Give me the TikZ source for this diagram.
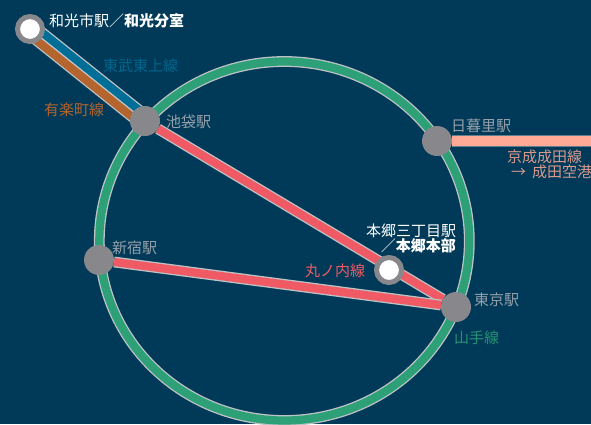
\documentclass[tikz,border=0pt]{standalone}
\usepackage{fontspec}
\setmainfont{Noto Sans CJK JP}
\usetikzlibrary{calc,backgrounds}
\definecolor{fond}{RGB}{0,58,88}
\definecolor{gare}{RGB}{135,135,140}
\definecolor{bord}{RGB}{190,195,198}
\definecolor{vert}{RGB}{45,160,120}
\definecolor{bleu}{RGB}{0,110,150}
\definecolor{brun}{RGB}{180,100,45}
\definecolor{rouge}{RGB}{240,90,100}
\definecolor{saumon}{RGB}{255,170,150}
\definecolor{nomgare}{RGB}{150,160,170}
\tikzset{
	gare/.style={circle,fill=gare,minimum size=30pt,inner sep=0pt},
	bureau/.style={circle,fill=white,draw=gare,line width=5pt,minimum size=25pt,inner sep=0pt},
	ligne/.style={draw=bord,double=#1,line width=1.3pt,double distance=8.2pt},
	txt/.style={font=\fontsize{15}{17}\selectfont,inner sep=0pt,anchor=west},
}
\begin{document}
\begin{tikzpicture}[x=1pt,y=-1pt]
\useasboundingbox (0,0) rectangle (591,424);

% les gares
  \node[bureau] (wako) at (30,29) {};
  \node[bureau] (hongo) at (389,270) {};
  \node[gare] (ikebukuro) at (145,121) {};
  \node[gare] (nippori) at (437,141) {};
  \node[gare] (shinjuku) at (99,260) {};
  \node[gare] (tokyo) at (456,307) {};
  \coordinate (finkeisei) at (592,141);

% les lignes par-dessous
  \begin{scope}[on background layer]
  \fill[fond] (0,0) rectangle (591,424);
  \draw[ligne=vert] (284.3,241) ellipse (185 and 179.5);
  \draw[ligne=bleu] ($(wako)!4.8pt!90:(ikebukuro)$) -- ($(ikebukuro)!4.8pt!-90:(wako)$);
  \draw[ligne=brun] ($(wako)!4.8pt!-90:(ikebukuro)$) -- ($(ikebukuro)!4.8pt!90:(wako)$);
  \draw[ligne=rouge] (ikebukuro) -- (tokyo);
  \draw[ligne=rouge] (shinjuku) -- (tokyo);
  \draw[draw=bord!50!fond,double=saumon,line width=1.3pt,double distance=10pt] (nippori) -- (finkeisei);
  \end{scope}

% du texte
  \node[txt,white] (nomwako) at (49,21) {和光市駅／\textbf{和光分室}};
  \node[txt,bleu!85!fond] (nomtobu) at (103,66) {東武東上線};
  \node[txt,brun] (nomyurakucho) at (44,110) {有楽町線};
  \node[txt,nomgare] (nomikebukuro) at (166,122) {池袋駅};
  \node[txt,nomgare] (nomnippori) at (451,126) {日暮里駅};
  \node[txt,saumon!85!fond] (nomkeisei) at (507,157) {京成成田線};
  \node[txt,saumon!85!fond] (nomnarita) at (511,172) {→\hspace{6pt}成田空港};
  \node[txt,nomgare] (nomshinjuku) at (112,248) {新宿駅};
  \node[txt,rouge] (nommarunouchi) at (305,271) {丸ノ内線};
  \node[txt,white] (nomhongo) at (366,231) {本郷三丁目駅};
  \node[txt,white,anchor=east] (nomhonbu) at (456,246) {／\textbf{本郷本部}};
  \node[txt,nomgare] (nomtokyo) at (474,300) {東京駅};
  \node[txt,vert!85!fond] (nomyamanote) at (454,338) {山手線};
\end{tikzpicture}
\end{document}
